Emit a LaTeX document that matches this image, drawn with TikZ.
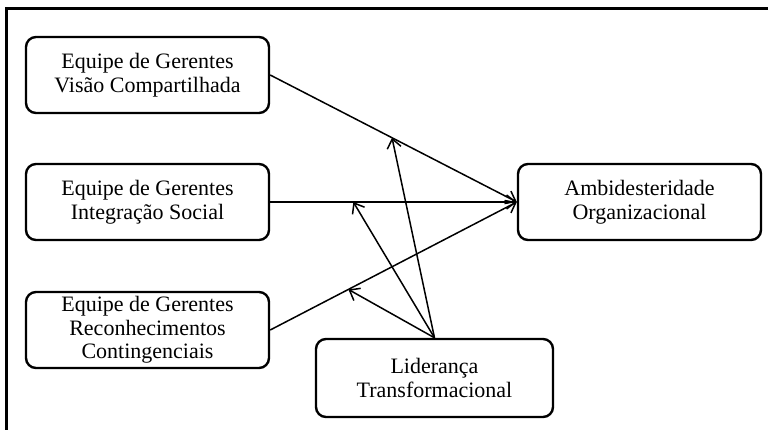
\documentclass[tikz,border=0pt]{standalone}
\usepackage{fontspec}
\setmainfont{Liberation Serif}
\usetikzlibrary{arrows.meta,calc}
\begin{document}
\begin{tikzpicture}[x=1pt,y=-1pt,
  box/.style={draw, line width=2.4pt, rounded corners=10pt, minimum width=243pt,
    minimum height=76pt, align=center, inner sep=0pt,
    font=\fontsize{22}{23.5}\selectfont},
  conn/.style={line width=1.5pt, -{Straight Barb[length=9pt,width=14pt,line width=1.5pt]}}]
\useasboundingbox (0,0) rectangle (768,429);
\draw[line width=3pt] (6,431) -- (6,8) -- (770,8);
\node[box] (v) at (147.5,75) {Equipe de Gerentes\\Visão Compartilhada};
\node[box] (i) at (147.5,202) {Equipe de Gerentes\\Integração Social};
\node[box] (r) at (147.5,330) {Equipe de Gerentes\\Reconhecimentos\\Contingenciais};
\node[box] (a) at (639.5,202) {Ambidesteridade\\Organizacional};
\node[box, minimum height=78pt, minimum width=237pt] (l) at (434.5,378) {Liderança\\Transformacional};
\draw[conn] (v.east) -- (a.west);
\draw[conn] (i.east) -- (a.west);
\draw[conn] (r.east) -- (a.west);
\coordinate (m1) at ($(v.east)!0.494!(a.west)$);
\coordinate (m2) at ($(i.east)!0.337!(a.west)$);
\coordinate (m3) at ($(r.east)!0.317!(a.west)$);
\draw[conn] (l.north) -- (m1);
\draw[conn] (l.north) -- (m2);
\draw[conn] (l.north) -- (m3);
\end{tikzpicture}
\end{document}
